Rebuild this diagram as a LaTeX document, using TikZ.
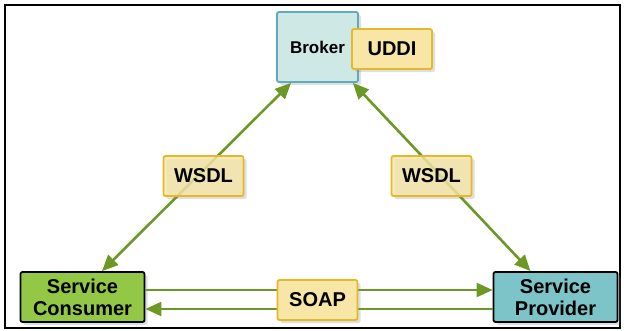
\documentclass[tikz,border=0pt]{standalone}
\usepackage{fontspec}
\setmainfont{Liberation Sans}
\usetikzlibrary{arrows.meta,shadows}
\definecolor{lineGreen}{RGB}{108,152,38}
\definecolor{consFill}{RGB}{146,200,70}
\definecolor{provFill}{RGB}{124,196,200}
\definecolor{brokFill}{RGB}{206,232,230}
\definecolor{brokLine}{RGB}{96,170,190}
\definecolor{paleGold}{RGB}{247,230,165}
\definecolor{goldLine}{RGB}{228,184,40}
\tikzset{
  greentip/.tip={Triangle[length=16pt,width=14pt]},
  box/.style={rounded corners=2pt, line width=1.8pt, align=center,
    font=\bfseries\fontsize{20}{22}\selectfont,
    drop shadow={opacity=0.25, shadow xshift=3pt, shadow yshift=-3pt}},
  tagbox/.style={box, draw=goldLine, fill=paleGold, minimum width=80pt, minimum height=40pt},
  rolebox/.style={box, draw=black, minimum width=124pt, minimum height=50pt},
  link/.style={lineGreen, line width=2.6pt}
}
\begin{document}
\begin{tikzpicture}[x=1pt,y=-1pt]
        % Cadre
        \useasboundingbox (0,0) rectangle (624,330);
        \draw[line width=2pt] (5,5) rectangle (620,328);

        % Broker et annuaire
        \node[box, draw=brokLine, fill=brokFill, minimum width=81pt, minimum height=70pt,
              font=\bfseries\fontsize{17}{19}\selectfont] (broker) at (317.5,47) {Broker};
        \node[tagbox] (uddi) at (392,49) {UDDI};

        % Consommateur et fournisseur
        \node[rolebox, fill=consFill] (cons) at (82.5,297) {Service\\Consumer};
        \node[rolebox, fill=provFill] (prov) at (555.5,297) {Service\\Provider};

        % Liens
        \draw[link, {greentip}-{greentip}] ([xshift=19.5pt]cons.north) -- ([xshift=15pt]broker.south west);
        \draw[link, {greentip}-{greentip}] ([xshift=-6pt]broker.south east) -- ([xshift=-25pt]prov.north);
        \draw[link, -{greentip}] ([yshift=7pt]cons.east) -- ([yshift=7pt]prov.west);
        \draw[link, -{greentip}] ([yshift=-12pt]prov.west) -- ([yshift=-12pt]cons.east);

        % Etiquettes
        \node[tagbox, fill opacity=0.8, text opacity=1] (wsdlA) at (203.5,176) {WSDL};
        \node[tagbox, fill opacity=0.8, text opacity=1] (wsdlB) at (431.5,176) {WSDL};
        \node[tagbox] (soap) at (317.5,300) {SOAP};

    \end{tikzpicture}
\end{document}
